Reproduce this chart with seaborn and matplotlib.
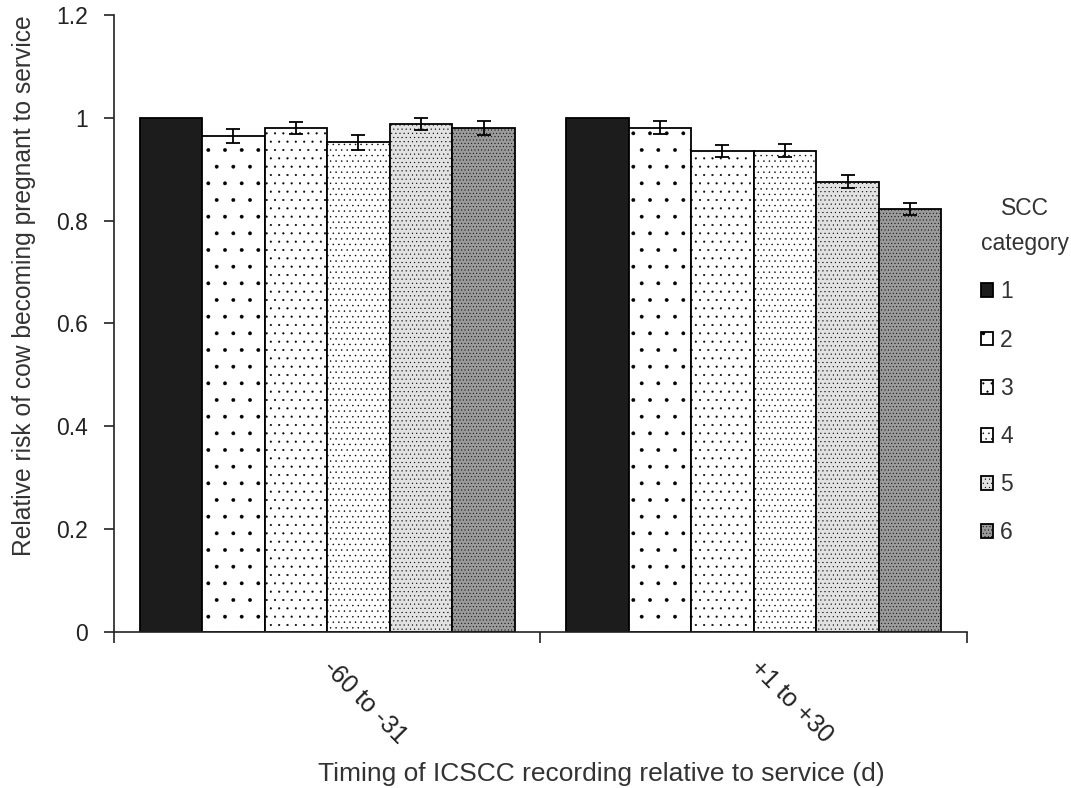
import numpy as np
import pandas as pd
import matplotlib
matplotlib.use("Agg")
import matplotlib.pyplot as plt
import seaborn as sns

# values
timing = ["-60 to -31", "+1 to +30"]
scc_cats = ["1", "2", "3", "4", "5", "6"]
rr_early = [1.0, 0.965, 0.980, 0.952, 0.988, 0.980]
rr_late = [1.0, 0.981, 0.936, 0.936, 0.876, 0.822]
err_early = [0.0, 0.014, 0.012, 0.015, 0.012, 0.013]
err_late = [0.0, 0.013, 0.012, 0.013, 0.013, 0.012]

faces = ["#1c1c1c", "white", "white", "white", "#e2e2e2", "#9a9a9a"]
hatches = [None, ".", "..", "...", "....", "....."]

sns.set_style("white")
plt.rcParams["font.family"] = ["Liberation Sans", "DejaVu Sans"]
plt.rcParams["hatch.linewidth"] = 0.3

df = pd.DataFrame({
    "timing": np.repeat(timing, len(scc_cats)),
    "scc": scc_cats * len(timing),
    "rr": rr_early + rr_late,
    "err": err_early + err_late,
})

fig = plt.figure(figsize=(10.71, 7.88), dpi=100)
ax = fig.add_axes([0.1064, 0.198, 0.7965, 0.783])

sns.barplot(data=df, x="timing", y="rr", hue="scc", hue_order=scc_cats,
            palette=faces, width=0.88, edgecolor="black", linewidth=1.3,
            errorbar=None, saturation=1, ax=ax)
bars = list(ax.containers)

# hatches per SCC category
for cont, h in zip(bars, hatches):
    for p in cont.patches:
        if h:
            p.set_hatch(h)

# error bars on top of each bar (not for reference category 1)
for i, cont in enumerate(bars):
    if i == 0:
        continue
    xs = [p.get_x() + p.get_width() / 2 for p in cont.patches]
    ys = [rr_early[i], rr_late[i]]
    es = [err_early[i], err_late[i]]
    ax.errorbar(xs, ys, yerr=es, fmt="none", ecolor="black",
                elinewidth=1.3, capsize=5, capthick=1.3)

ax.set_xlim(-0.5, 1.5)
ax.set_ylim(0, 1.2)
ax.set_yticks([0, 0.2, 0.4, 0.6, 0.8, 1.0, 1.2])
ax.set_yticklabels(["0", "0.2", "0.4", "0.6", "0.8", "1", "1.2"])
ax.tick_params(axis="y", direction="out", length=7, width=1.2,
               labelsize=16.5, left=True, pad=12, colors="#222222")
ax.set_xticks([-0.5, 0.5, 1.5], minor=True)
ax.tick_params(axis="x", which="minor", direction="out", length=8,
               width=1.2, bottom=True, color="#222222")
ax.tick_params(axis="x", which="major", length=0, pad=23, labelsize=18,
               colors="#222222")
for tl in ax.get_xticklabels():
    tl.set_rotation(-45)
    tl.set_ha("left")
    tl.set_va("center")
    tl.set_rotation_mode("anchor")

sns.despine(ax=ax)
for s in ["left", "bottom"]:
    ax.spines[s].set_linewidth(1.2)
    ax.spines[s].set_color("#222222")

ax.set_ylabel("Relative risk of cow becoming pregnant to service",
              fontsize=17.7, color="#333333")
ax.yaxis.set_label_coords(-0.091, 0.562)
ax.set_xlabel("Timing of ICSCC recording relative to service (d)",
              fontsize=19, color="#333333")
ax.xaxis.set_label_coords(0.571, -0.21)

ax.get_legend().remove()
leg = ax.legend(bars, scc_cats, title="SCC\ncategory",
                loc="upper left", bbox_to_anchor=(0.905, 0.765),
                bbox_transform=fig.transFigure, frameon=False,
                fontsize=16.5, title_fontsize=16.5, handlelength=0.55,
                handleheight=0.55, handletextpad=0.3, labelspacing=1.1,
                borderpad=0, alignment="left")
leg.get_title().set_multialignment("center")
leg.get_title().set_linespacing(1.7)
for t in leg.get_texts():
    t.set_color("#333333")
leg.get_title().set_color("#333333")

fig.savefig("out.png", dpi=100)
